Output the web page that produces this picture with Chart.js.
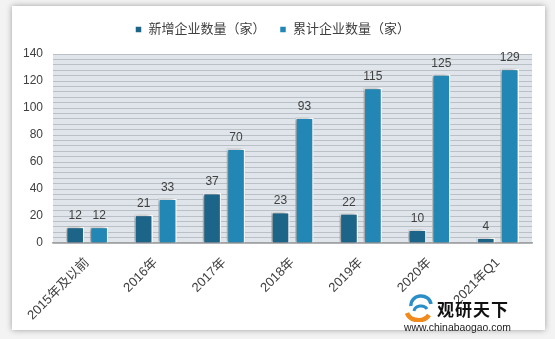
<!DOCTYPE html>
<html>
<head>
<meta charset="utf-8">
<script src="https://cdn.jsdelivr.net/npm/chart.js@4/dist/chart.umd.min.js"></script>
<style>
  html, body { margin: 0; padding: 0; }
  body { width: 555px; height: 339px; background: #f3f3f3; position: relative; overflow: hidden; }
  #panel { position: absolute; left: 12px; top: 6px; width: 533px; height: 324px; background: #fff;
           box-shadow: 0 0 6px rgba(0,0,0,0.35); }
  #wrap { position: absolute; left: 0; top: 0; width: 555px; height: 339px; }
  #logo { position: absolute; left: 404px; top: 294px; width: 110px; height: 40px;
          font-family: "Liberation Sans", "Noto Sans CJK SC", sans-serif; }
  #logo .name { position: absolute; left: 33px; top: 5px; font-size: 17px; font-weight: bold; color: #111;
                font-family: "Noto Sans CJK SC", sans-serif; letter-spacing: 1px; line-height: 20px; }
  #logo .url { position: absolute; left: 0; top: 27px; font-size: 10.4px; color: #222; line-height: 13px; }
  #logo svg { position: absolute; left: 0; top: 0; }
</style>
</head>
<body>
<div id="panel"></div>
<div id="wrap"><canvas id="companyChart" width="555" height="339"></canvas></div>
<div id="logo">
  <svg width="30" height="28" viewBox="0 0 30 28">
    <path d="M3 19 A12 10 0 0 0 25 21" stroke="#f08a1c" stroke-width="4.5" fill="none"/>
    <path d="M7 12 A10 9 0 0 1 27 10" stroke="#2a8fc7" stroke-width="3.5" fill="none"/>
    <path d="M10 17 A7 6 0 0 1 23 15" stroke="#2a8fc7" stroke-width="3" fill="none"/>
  </svg>
  <div class="name">观研天下</div>
  <div class="url">www.chinabaogao.com</div>
</div>
<script>
// data
const categories = ["2015年及以前", "2016年", "2017年", "2018年", "2019年", "2020年", "2021年Q1"];
const newCompanies = [12, 21, 37, 23, 22, 10, 4];
const totalCompanies = [12, 33, 70, 93, 115, 125, 129];
const yMin = 0;
const yMax = 140;
const yLabelStep = 20;
const yGridStep = 4;

const FONT = '"Liberation Sans", "Noto Sans CJK SC", sans-serif';

// plot background, bar shadow and value labels
const decor = {
  id: "decor",
  beforeInit(chart) {
    // a bit more room under the legend
    const fit = chart.legend.fit;
    chart.legend.fit = function () {
      fit.call(this);
      this.height += 8;
    };
  },
  beforeDraw(chart) {
    const { ctx, chartArea: a } = chart;
    ctx.save();
    ctx.fillStyle = "#dfe5ea";
    ctx.fillRect(a.left, a.top, a.right - a.left, a.bottom - a.top);
    ctx.restore();
  },
  beforeDatasetsDraw(chart) {
    const ctx = chart.ctx;
    ctx.save();
    ctx.shadowColor = "rgba(0,0,0,0.45)";
    ctx.shadowBlur = 4;
    ctx.shadowOffsetX = -2;
    ctx.shadowOffsetY = 0;
  },
  afterDatasetsDraw(chart) {
    const ctx = chart.ctx;
    ctx.restore();
    ctx.save();
    ctx.font = "12px " + FONT;
    ctx.fillStyle = "#404040";
    ctx.textAlign = "center";
    ctx.textBaseline = "bottom";
    chart.data.datasets.forEach((ds, i) => {
      chart.getDatasetMeta(i).data.forEach((bar, j) => {
        ctx.fillText(ds.data[j], bar.x, bar.y - 5);
      });
    });
    ctx.restore();
  }
};

new Chart(document.getElementById("companyChart"), {
  type: "bar",
  data: {
    labels: categories,
    datasets: [
      {
        label: "新增企业数量（家）",
        data: newCompanies,
        backgroundColor: "#1d6489",
        borderColor: "#ffffff",
        borderWidth: 1.5,
      },
      {
        label: "累计企业数量（家）",
        data: totalCompanies,
        backgroundColor: "#2287b4",
        borderColor: "#ffffff",
        borderWidth: 1.5,
      },
    ],
  },
  options: {
    responsive: false,
    animation: false,
    categoryPercentage: 0.7,
    barPercentage: 0.77,
    layout: { padding: { left: 13, right: 23, top: 9, bottom: 0 } },
    plugins: {
      tooltip: { enabled: false },
      legend: {
        position: "top",
        labels: {
          color: "#404040",
          font: { family: FONT, size: 13 },
          boxWidth: 7,
          boxHeight: 7,
          padding: 14,
        },
      },
    },
    scales: {
      x: {
        grid: { display: false },
        border: { display: true, color: "#a3a3a3", width: 1.5 },
        ticks: {
          color: "#404040",
          font: { family: FONT, size: 13 },
          maxRotation: 45,
          minRotation: 45,
          autoSkip: false,
          padding: 4,
        },
        afterFit(scale) { scale.height = 96; },
      },
      y: {
        min: yMin,
        max: yMax,
        border: { display: false },
        grid: { color: "#b9c0c6", lineWidth: 1, drawTicks: false },
        ticks: {
          stepSize: yGridStep,
          maxTicksLimit: 50,
          autoSkip: false,
          padding: 10,
          color: "#404040",
          font: { family: FONT, size: 12 },
          callback: (v) => (v % yLabelStep === 0 ? v : ""),
        },
        afterFit(scale) { scale.width = 40; },
      },
    },
  },
  plugins: [decor],
});
</script>
</body>
</html>
